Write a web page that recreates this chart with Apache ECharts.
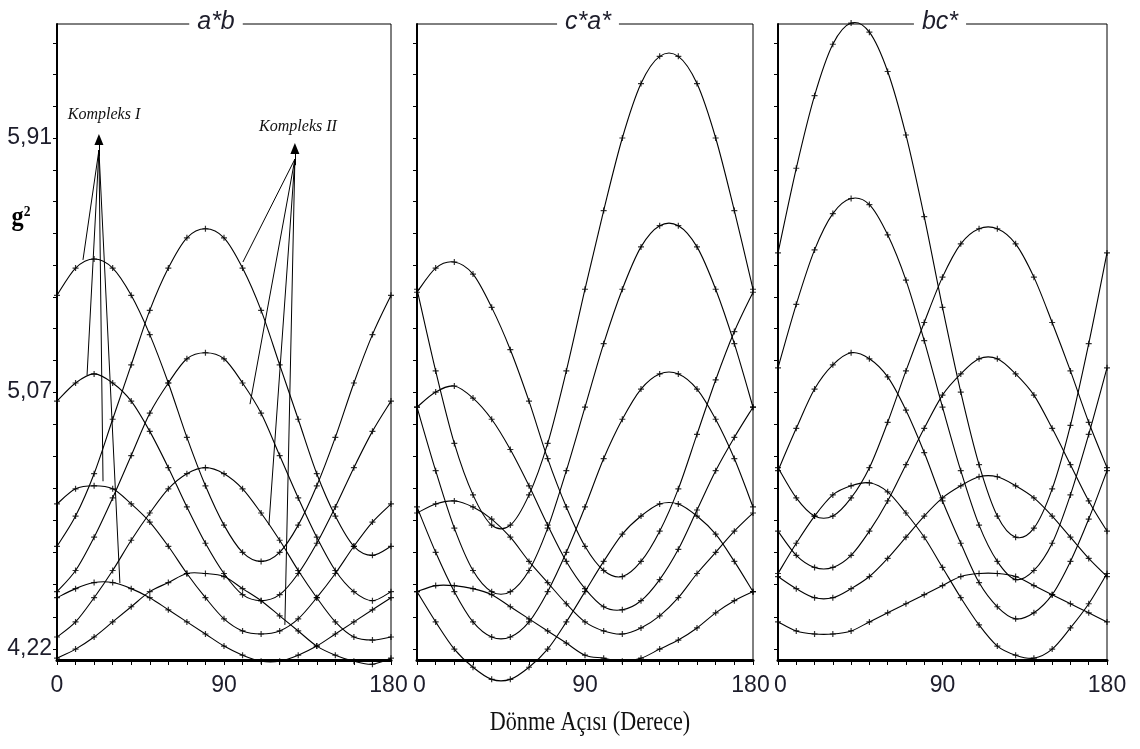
<!DOCTYPE html>
<html><head><meta charset="utf-8">
<script src="https://cdn.jsdelivr.net/npm/echarts@6/dist/echarts.min.js"></script>
<style>html,body{margin:0;padding:0;background:#fff}#c{width:1140px;height:749px}</style>
</head><body><div id="c"></div>
<script>
// ---- data ----
const angles = [0,10,20,30,40,50,60,70,80,90,100,110,120,130,140,150,160,170,180];
const panelTitles = ['a*b', 'c*a*', 'bc*'];
const yLabelValues = [4.22, 5.07, 5.91];
const yTickValues = [4.22,4.326,4.433,4.539,4.645,4.751,4.858,4.964,5.07,5.175,5.28,5.385,5.49,5.595,5.70,5.805,5.91,6.015,6.12,6.225];
const xLabelValues = [0, 90, 180];
const xTickValues = [0,10,20,30,40,50,60,70,80,90,100,110,120,130,140,150,160,170,180];

// a*b plane
const ab_I_1 = [5.39,5.48,5.51,5.48,5.39,5.26,5.10,4.92,4.76,4.63,4.54,4.51,4.54,4.63,4.76,4.92,5.10,5.26,5.39];
const ab_I_2 = [5.04,5.10,5.13,5.10,5.04,4.94,4.82,4.69,4.57,4.47,4.40,4.38,4.40,4.47,4.57,4.69,4.82,4.94,5.04];
const ab_I_3 = [4.70,4.75,4.76,4.75,4.70,4.64,4.56,4.47,4.39,4.32,4.28,4.27,4.28,4.32,4.39,4.47,4.56,4.64,4.70];
const ab_I_4 = [4.39,4.42,4.44,4.44,4.42,4.39,4.35,4.31,4.27,4.23,4.20,4.18,4.18,4.20,4.23,4.27,4.31,4.35,4.39];
const ab_II_1 = [4.56,4.66,4.80,4.98,5.16,5.34,5.48,5.58,5.61,5.58,5.48,5.34,5.16,4.98,4.80,4.66,4.56,4.53,4.56];
const ab_II_2 = [4.41,4.48,4.59,4.72,4.86,5.00,5.10,5.18,5.20,5.18,5.10,5.00,4.86,4.72,4.59,4.48,4.41,4.38,4.41];
const ab_II_3 = [4.26,4.31,4.39,4.48,4.58,4.67,4.75,4.80,4.82,4.80,4.75,4.67,4.58,4.48,4.39,4.31,4.26,4.25,4.26];
const ab_II_4 = [4.19,4.22,4.26,4.31,4.36,4.41,4.44,4.47,4.47,4.46,4.42,4.38,4.33,4.28,4.23,4.20,4.18,4.17,4.19];

// c*a* plane
const ca_A_1 = [5.41,5.14,4.90,4.73,4.63,4.63,4.73,4.90,5.14,5.41,5.67,5.91,6.09,6.18,6.18,6.09,5.91,5.67,5.41];
const ca_A_2 = [5.02,4.81,4.62,4.48,4.41,4.41,4.48,4.62,4.81,5.02,5.23,5.41,5.55,5.62,5.62,5.55,5.41,5.23,5.02];
const ca_A_3 = [4.69,4.54,4.41,4.31,4.26,4.26,4.31,4.41,4.54,4.69,4.85,4.98,5.08,5.13,5.13,5.08,4.98,4.85,4.69];
const ca_A_4 = [4.41,4.31,4.22,4.16,4.12,4.12,4.16,4.22,4.31,4.41,4.51,4.60,4.66,4.70,4.70,4.66,4.60,4.51,4.41];
const ca_B_1 = [5.40,5.48,5.50,5.46,5.35,5.21,5.04,4.85,4.69,4.56,4.48,4.46,4.51,4.61,4.75,4.93,5.11,5.27,5.40];
const ca_B_2 = [5.02,5.07,5.09,5.05,4.98,4.88,4.76,4.63,4.51,4.42,4.36,4.35,4.38,4.45,4.55,4.68,4.81,4.92,5.02];
const ca_B_3 = [4.67,4.70,4.71,4.69,4.65,4.59,4.51,4.44,4.37,4.31,4.28,4.27,4.29,4.33,4.39,4.47,4.54,4.61,4.67];
const ca_B_4 = [4.41,4.43,4.43,4.42,4.40,4.36,4.32,4.28,4.24,4.20,4.19,4.18,4.19,4.22,4.25,4.29,4.34,4.38,4.41];

// bc* plane
const bc_C_1 = [5.53,5.81,6.05,6.22,6.29,6.26,6.13,5.92,5.65,5.35,5.07,4.83,4.66,4.59,4.62,4.75,4.96,5.23,5.53];
const bc_C_2 = [5.15,5.36,5.54,5.66,5.71,5.69,5.59,5.44,5.24,5.02,4.81,4.63,4.51,4.45,4.48,4.57,4.73,4.93,5.15];
const bc_C_3 = [4.81,4.95,5.08,5.16,5.20,5.18,5.12,5.01,4.87,4.71,4.57,4.44,4.36,4.32,4.34,4.40,4.51,4.65,4.81];
const bc_C_4 = [4.47,4.57,4.66,4.73,4.76,4.77,4.74,4.67,4.59,4.49,4.39,4.30,4.23,4.20,4.19,4.22,4.29,4.37,4.47];
const bc_D_1 = [4.82,4.72,4.66,4.66,4.72,4.82,4.97,5.14,5.30,5.45,5.56,5.61,5.61,5.56,5.45,5.30,5.14,4.97,4.82];
const bc_D_2 = [4.61,4.53,4.49,4.49,4.53,4.61,4.71,4.83,4.95,5.06,5.13,5.18,5.18,5.13,5.06,4.95,4.83,4.71,4.61];
const bc_D_3 = [4.46,4.42,4.39,4.39,4.42,4.46,4.52,4.59,4.66,4.72,4.76,4.79,4.79,4.76,4.72,4.66,4.59,4.52,4.46];
const bc_D_4 = [4.31,4.28,4.27,4.27,4.28,4.31,4.34,4.37,4.40,4.43,4.46,4.47,4.47,4.46,4.43,4.40,4.37,4.34,4.31];

// annotation arrows (data coords in a*b panel)
const kompleksI_tip = [22.6, 5.905];
const kompleksI_from = [22.6, 5.87];
const kompleksI_targets = [[14.0, 5.507], [16.2, 5.126], [24.8, 4.775], [33.9, 4.438]];
const kompleksII_tip = [128.2, 5.875];
const kompleksII_from = [128.2, 5.84];
const kompleksII_targets = [[100.2, 5.50], [104.0, 5.03], [114.2, 4.63], [122.8, 4.30]];

// ---- chart ----
const panels = [
  [ab_I_1, ab_I_2, ab_I_3, ab_I_4, ab_II_1, ab_II_2, ab_II_3, ab_II_4],
  [ca_A_1, ca_A_2, ca_A_3, ca_A_4, ca_B_1, ca_B_2, ca_B_3, ca_B_4],
  [bc_C_1, bc_C_2, bc_C_3, bc_C_4, bc_D_1, bc_D_2, bc_D_3, bc_D_4]
];
const gridBoxes = [
  {left: 57, top: 24, width: 334, height: 636},
  {left: 417, top: 24, width: 336, height: 636},
  {left: 778, top: 24, width: 329, height: 636}
];
const titleCenters = [216, 588, 940];
const Y_MIN = 4.184, Y_MAX = 6.287;
const labelFont = "'Liberation Sans Narrow','Arial Narrow','Liberation Sans',sans-serif";
const crossPath = 'path://M4,0h2v4h4v2h-4v4h-2v-4h-4v-2h4z';
const INK = '#1d1d2b';

const chart = echarts.init(document.getElementById('c'), null, {renderer: 'canvas'});

const grid = gridBoxes.map(g => Object.assign({show: true, borderColor: '#000', borderWidth: 1, backgroundColor: 'transparent', containLabel: false}, g));
const xAxis = gridBoxes.map((g, i) => ({
  type: 'value', gridIndex: i, min: 0, max: 180,
  axisLine: {show: true, lineStyle: {color: '#000', width: 3}},
  axisTick: {show: true, customValues: xTickValues, length: 5, lineStyle: {color: '#000', width: 1}},
  axisLabel: {show: true, customValues: xLabelValues, margin: 14, fontFamily: labelFont, fontSize: 23, color: INK,
    formatter: v => (v === 180 && i < 2) ? '{r|180}' : (v === 0 && i > 0) ? '{l|0}' : String(v),
    rich: {r: {fontFamily: labelFont, fontSize: 23, color: INK, padding: [0, 5, 0, 0]},
           l: {fontFamily: labelFont, fontSize: 23, color: INK, padding: [0, 0, 0, 5]}}},
  splitLine: {show: false}
}));
const yAxis = gridBoxes.map((g, i) => ({
  type: 'value', gridIndex: i, min: Y_MIN, max: Y_MAX,
  axisLine: {show: true, lineStyle: {color: '#000', width: 2}},
  axisTick: {show: true, customValues: yTickValues, length: 4, lineStyle: {color: '#000', width: 1}},
  axisLabel: {show: i === 0, customValues: yLabelValues, margin: 5, fontFamily: labelFont, fontSize: 23, color: INK,
    formatter: v => v.toFixed(2).replace('.', ',')},
  splitLine: {show: false}
}));

// cubic spline (Catmull-Rom) through the read points, drawn in pixel space via the axes
function curveSeries(vals, pi) {
  const n = angles.length;
  return {
    type: 'custom', xAxisIndex: pi, yAxisIndex: pi, coordinateSystem: 'cartesian2d',
    data: angles.map((a, k) => [a, vals[k]]), encode: {x: 0, y: 1},
    clip: false, silent: true, z: 3,
    renderItem: (params, api) => {
      const i = params.dataIndex;
      if (i >= n - 1) return null;
      const P = k => { const j = Math.max(0, Math.min(n - 1, k)); return api.coord([angles[j], vals[j]]); };
      const p0 = P(i - 1), p1 = P(i), p2 = P(i + 1), p3 = P(i + 2);
      return {
        type: 'bezierCurve',
        shape: {x1: p1[0], y1: p1[1], x2: p2[0], y2: p2[1],
          cpx1: p1[0] + (p2[0] - p0[0]) / 6, cpy1: p1[1] + (p2[1] - p0[1]) / 6,
          cpx2: p2[0] - (p3[0] - p1[0]) / 6, cpy2: p2[1] - (p3[1] - p1[1]) / 6},
        style: {stroke: '#000', fill: 'none', lineWidth: 1.1}
      };
    }
  };
}

const series = [];
panels.forEach((curves, pi) => {
  curves.forEach(vals => {
    series.push(curveSeries(vals, pi));
    series.push({
      type: 'scatter', xAxisIndex: pi, yAxisIndex: pi, clip: false, silent: true, z: 4,
      data: angles.map((a, k) => [a, vals[k]]),
      symbol: crossPath, symbolSize: 6, itemStyle: {color: '#000'}
    });
  });
});

function arrowLines(from, tip, targets) {
  const d = targets.map(t => [{coord: from, symbol: 'none'}, {coord: t, symbol: 'none'}]);
  d.push([{coord: [from[0], from[1] - 0.02], symbol: 'none'}, {coord: tip, symbol: 'triangle', symbolSize: [9, 11]}]);
  return d;
}
series.push({
  type: 'line', xAxisIndex: 0, yAxisIndex: 0, data: [], silent: true,
  markLine: {
    silent: true, animation: false, symbol: 'none', label: {show: false},
    lineStyle: {color: '#000', width: 1, type: 'solid'},
    data: arrowLines(kompleksI_from, kompleksI_tip, kompleksI_targets)
      .concat(arrowLines(kompleksII_from, kompleksII_tip, kompleksII_targets))
  }
});

const graphic = [];
panelTitles.forEach((t, i) => {
  graphic.push({type: 'text', z: 100, x: titleCenters[i], y: 22,
    style: {text: t, align: 'center', verticalAlign: 'middle', fontFamily: "'Liberation Sans',sans-serif",
      fontStyle: 'italic', fontSize: 25, fill: INK, backgroundColor: '#fff', padding: [2, 8]}});
});
graphic.push({type: 'text', z: 100, x: 104, y: 115,
  style: {text: 'Kompleks I', align: 'center', verticalAlign: 'middle', fontFamily: "'Liberation Serif',serif", fontStyle: 'italic', fontSize: 16, fill: '#111'}});
graphic.push({type: 'text', z: 100, x: 298, y: 127,
  style: {text: 'Kompleks II', align: 'center', verticalAlign: 'middle', fontFamily: "'Liberation Serif',serif", fontStyle: 'italic', fontSize: 16, fill: '#111'}});
graphic.push({type: 'text', z: 100, x: 21, y: 218, scaleX: 0.9,
  style: {text: '{g|g}{s|2}', align: 'center', verticalAlign: 'middle',
    rich: {g: {fontFamily: "'Liberation Serif',serif", fontWeight: 'bold', fontSize: 27, color: '#000'},
           s: {fontFamily: "'Liberation Serif',serif", fontWeight: 'bold', fontSize: 15, color: '#000', verticalAlign: 'top', padding: [0, 0, 12, 0]}}}});
graphic.push({type: 'text', z: 100, x: 590, y: 723, scaleX: 0.82,
  style: {text: 'Dönme Açısı (Derece)', align: 'center', verticalAlign: 'middle', fontFamily: "'Liberation Serif',serif", fontSize: 27, fill: '#111'}});

chart.setOption({animation: false, backgroundColor: '#fff', grid, xAxis, yAxis, series, graphic});
</script></body></html>
